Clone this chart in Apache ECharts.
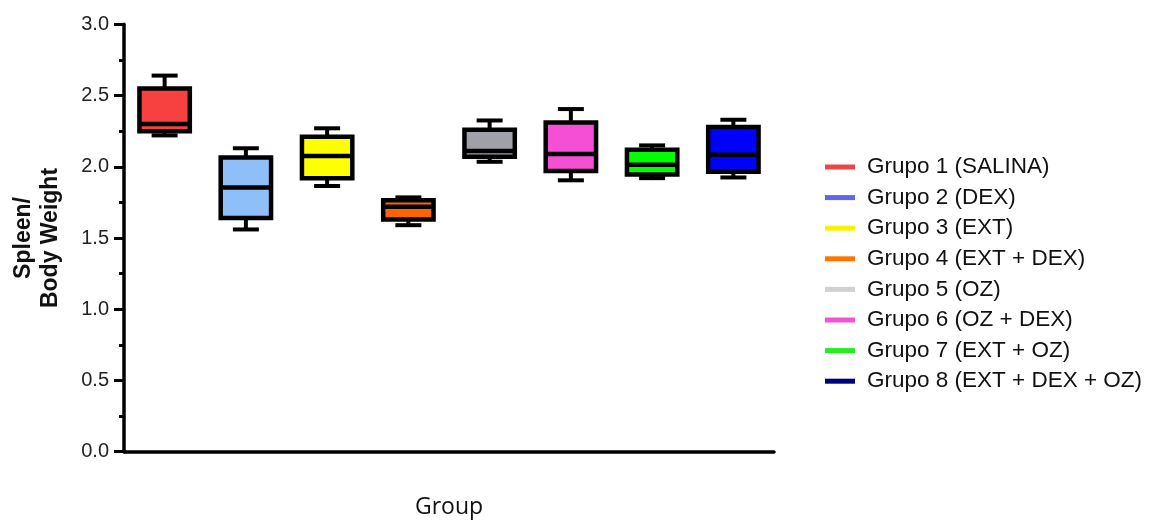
<!DOCTYPE html>
<html>
<head>
<meta charset="utf-8">
<script src="https://cdn.jsdelivr.net/npm/echarts@6/dist/echarts.min.js"></script>
<style>
  html, body { margin: 0; padding: 0; background: #fff; }
  #chart { width: 1170px; height: 525px; }
</style>
</head>
<body>
<div id="chart"></div>
<script>
// ---- Data ----
const groupNames = [
  'Grupo 1 (SALINA)', 'Grupo 2 (DEX)', 'Grupo 3 (EXT)', 'Grupo 4 (EXT + DEX)',
  'Grupo 5 (OZ)', 'Grupo 6 (OZ + DEX)', 'Grupo 7 (EXT + OZ)', 'Grupo 8 (EXT + DEX + OZ)'
];
const mins    = [2.22, 1.56, 1.865, 1.59, 2.035, 1.905, 1.92, 1.925];
const q1s     = [2.25, 1.64, 1.92, 1.63, 2.07, 1.97, 1.945, 1.965];
const medians = [2.30, 1.855, 2.075, 1.72, 2.11, 2.09, 2.015, 2.085];
const q3s     = [2.55, 2.065, 2.21, 1.765, 2.26, 2.31, 2.12, 2.28];
const maxs    = [2.64, 2.13, 2.27, 1.785, 2.325, 2.405, 2.15, 2.33];
const yTicks  = [0, 0.5, 1.0, 1.5, 2.0, 2.5, 3.0];

// ---- Styles ----
const boxColors = ['#f74040', '#8fbff8', '#ffff00', '#ff6200', '#a0a0a8', '#f550d5', '#00ff00', '#0000ff'];
const legendColors = ['#f04444', '#6464e6', '#f4f400', '#ff7400', '#d2d2d2', '#f452d2', '#22f022', '#00007e'];

function renderItem(params, api) {
  const x = api.value(0);
  const pMin = api.coord([x, api.value(1)]);
  const pQ1 = api.coord([x, api.value(2)]);
  const pMed = api.coord([x, api.value(3)]);
  const pQ3 = api.coord([x, api.value(4)]);
  const pMax = api.coord([x, api.value(5)]);
  const band = api.size([1, 0])[0];
  const hw = band * 0.31;
  const cw = band * 0.16;
  const cx = pMed[0];
  const color = api.visual('color');
  const wStyle = { stroke: '#000', lineWidth: 4, lineCap: 'butt' };
  return {
    type: 'group',
    children: [
      { type: 'line', shape: { x1: cx, y1: pQ3[1], x2: cx, y2: pMax[1] }, style: wStyle },
      { type: 'line', shape: { x1: cx, y1: pQ1[1], x2: cx, y2: pMin[1] }, style: wStyle },
      { type: 'line', shape: { x1: cx - cw, y1: pMax[1], x2: cx + cw, y2: pMax[1] }, style: wStyle },
      { type: 'line', shape: { x1: cx - cw, y1: pMin[1], x2: cx + cw, y2: pMin[1] }, style: wStyle },
      { type: 'rect', shape: { x: cx - hw, y: pQ3[1], width: 2 * hw, height: pQ1[1] - pQ3[1] },
        style: { fill: color, stroke: '#000', lineWidth: 4.5 } },
      { type: 'line', shape: { x1: cx - hw, y1: pMed[1], x2: cx + hw, y2: pMed[1] },
        style: { stroke: '#000', lineWidth: 4.5 } }
    ]
  };
}

const series = groupNames.map((name, i) => ({
  name: name,
  type: 'custom',
  renderItem: renderItem,
  itemStyle: { color: boxColors[i] },
  encode: { x: 0, y: [1, 2, 3, 4, 5] },
  data: [[i, mins[i], q1s[i], medians[i], q3s[i], maxs[i]]],
  z: 3
}));

const chart = echarts.init(document.getElementById('chart'), null, { renderer: 'canvas' });
chart.setOption({
  animation: false,
  backgroundColor: '#fff',
  grid: { left: 124, right: 396, top: 24.3, bottom: 73.3 },
  xAxis: {
    type: 'category',
    data: groupNames,
    name: 'Group',
    nameLocation: 'middle',
    nameGap: 44,
    nameTextStyle: { fontFamily: 'Open Sans', fontSize: 23, color: '#111' },
    axisLine: { lineStyle: { color: '#000', width: 3.5 } },
    axisTick: { show: false },
    axisLabel: { show: false },
    splitLine: { show: false }
  },
  yAxis: {
    type: 'value',
    min: 0, max: 3, interval: 0.5,
    name: 'Spleen/\nBody Weight',
    nameLocation: 'middle',
    nameGap: 60,
    nameTextStyle: { fontFamily: 'Liberation Sans', fontSize: 23, fontWeight: 'bold', color: '#111', lineHeight: 27 },
    axisLine: { show: true, lineStyle: { color: '#000', width: 3.5 } },
    axisTick: { show: true, length: 10, lineStyle: { color: '#000', width: 3 } },
    minorTick: { show: true, splitNumber: 2, length: 5, lineStyle: { color: '#000', width: 3 } },
    axisLabel: {
      margin: 15, fontFamily: 'Liberation Sans', fontSize: 20, color: '#222',
      formatter: v => yTicks.indexOf(v) >= 0 ? v.toFixed(1) : ''
    },
    splitLine: { show: false }
  },
  legend: {
    orient: 'vertical',
    left: 820, top: 150,
    icon: 'rect',
    itemWidth: 30, itemHeight: 5,
    itemGap: 6.6,
    textStyle: { fontFamily: 'Liberation Sans', fontSize: 22.5, color: '#111', lineHeight: 24, padding: [0, 0, 0, 7] },
    data: groupNames.map((n, i) => ({ name: n, itemStyle: { color: legendColors[i], borderWidth: 0 } }))
  },
  series: series
});
</script>
</body>
</html>
